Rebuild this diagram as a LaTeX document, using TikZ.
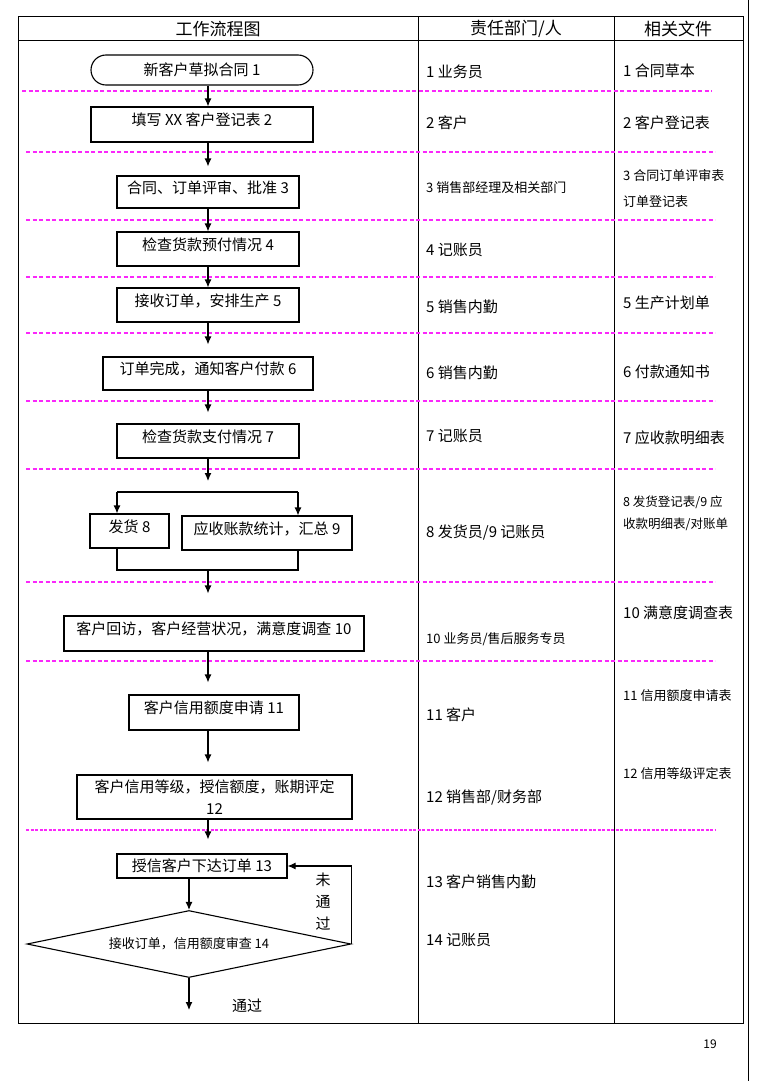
\documentclass[tikz,border=0pt]{standalone}
\usepackage{fontspec}
\setmainfont{Noto Sans CJK SC}
\usetikzlibrary{shapes.geometric,arrows.meta}
\definecolor{sepcolor}{RGB}{250,40,250}

\begin{document}
\begin{tikzpicture}[x=1pt, y=-1pt,
  plainbox/.style={draw, line width=1.1pt, inner sep=0pt, font=\fontsize{15}{22}\selectfont},
  stepbox/.style={plainbox, text height=11pt, text depth=9pt},
  colnote/.style={anchor=west, inner sep=0pt, font=\fontsize{15}{18}\selectfont},
  smallnote/.style={anchor=west, inner sep=0pt, align=left, font=\fontsize{13}{26}\selectfont},
  sep/.style={sepcolor, dash pattern=on 4pt off 2.5pt, line width=1.2pt},
  flow/.style={-{Latex[length=8pt,width=7pt]}, line width=1.1pt}]
\useasboundingbox (0,0) rectangle (772,1081);
% table
\draw[line width=1pt] (18,17) rectangle (743,1023);
\draw[line width=1pt] (18,41) -- (743,41);
\draw[line width=1pt] (418,17) -- (418,1023);
\draw[line width=1pt] (614,17) -- (614,1023);
\draw[line width=0.8pt] (748,0) -- (748,1081);
\node[font=\fontsize{17}{20}\selectfont] (h1) at (218,29) {工作流程图};
\node[font=\fontsize{17}{20}\selectfont] (h2) at (516,29) {责任部门/人};
\node[font=\fontsize{17}{20}\selectfont] (h3) at (678,29) {相关文件};
\node[font=\fontsize{12}{14}\selectfont] (page) at (710,1044) {19};
% separators
\draw[sep] (22,91) -- (712,91);
\draw[sep] (26,152) -- (715,152);
\draw[sep] (26,220) -- (715,220);
\draw[sep] (26,277) -- (715,277);
\draw[sep] (26,333) -- (715,333);
\draw[sep] (26,401) -- (715,401);
\draw[sep] (26,469) -- (715,469);
\draw[sep] (26,582) -- (715,582);
\draw[sep] (26,661) -- (715,661);
\draw[sep, dash pattern=on 3pt off 1.5pt, line width=1.8pt] (26,830) -- (715,830);
% steps
\coordinate (axis) at (208,0);
\node[plainbox, rounded corners=15pt, minimum width=222, minimum height=30] (s1) at (202,70) {新客户草拟合同 1};
\node[stepbox, minimum width=222, minimum height=35] (s2) at (202,124.5) {填写 XX 客户登记表 2};
\node[stepbox, minimum width=182, minimum height=32] (s3) at (208,192) {合同、订单评审、批准 3};
\node[stepbox, minimum width=182, minimum height=34] (s4) at (208,249) {检查货款预付情况 4};
\node[stepbox, minimum width=182, minimum height=34] (s5) at (208,305) {接收订单，安排生产 5};
\node[stepbox, minimum width=210, minimum height=33] (s6) at (208,373.5) {订单完成，通知客户付款 6};
\node[stepbox, minimum width=182, minimum height=34] (s7) at (208,441) {检查货款支付情况 7};
\node[stepbox, minimum width=79, minimum height=34] (s8) at (129.5,531) {发货 8};
\node[stepbox, minimum width=170, minimum height=34] (s9) at (267,533) {应收账款统计，汇总 9};
\node[stepbox, minimum width=300, minimum height=35] (s10) at (214,633.5) {客户回访，客户经营状况，满意度调查 10};
\node[stepbox, minimum width=170, minimum height=35] (s11) at (214,712.5) {客户信用额度申请 11};
\node[plainbox, align=center, minimum width=275, minimum height=44] (s12) at (214.5,797) {客户信用等级，授信额度，账期评定\\12};
\node[plainbox, minimum width=170, minimum height=24] (s13) at (202,866) {授信客户下达订单 13};
\node[draw, diamond, aspect=4.84, line width=1.1pt, inner sep=0pt, minimum width=324, minimum height=67, font=\fontsize{13}{15}\selectfont] (d14) at (189,944) {接收订单，信用额度审查 14};
% connectors
\draw[flow] (s1.south -| axis) -- (s2.north -| axis);
\draw[flow, shorten >=9pt] (s2.south -| axis) -- (s3.north -| axis);
\draw[flow] (s3.south -| axis) -- (s4.north -| axis);
\draw[flow] (s4.south -| axis) -- (s5.north -| axis);
\draw[flow, shorten >=12pt] (s5.south -| axis) -- (s6.north -| axis);
\draw[flow, shorten >=11pt] (s6.south -| axis) -- (s7.north -| axis);
\coordinate (fork) at (208,492);
\coordinate (forkL) at (117,492);
\coordinate (forkR) at (298,492);
\draw[flow, shorten >=11pt] (s7.south -| axis) -- (fork);
\draw[line width=1.1pt] (forkL) -- (forkR);
\draw[flow] (forkL) -- (forkL |- s8.north);
\draw[flow] (forkR) -- (forkR |- s9.north);
\coordinate (join) at (208,570);
\coordinate (joinL) at (117,570);
\coordinate (joinR) at (298,570);
\draw[line width=1.1pt] (s8.south -| joinL) -- (joinL) -- (joinR) -- (s9.south -| joinR);
\draw[flow, shorten >=22pt] (join) -- (s10.north -| join);
\draw[flow, shorten >=12pt] (s10.south -| axis) -- (s11.north -| axis);
\draw[flow, shorten >=12pt] (s11.south -| axis) -- (s12.north -| axis);
\draw[flow, shorten >=14pt] (s12.south -| axis) -- (s13.north -| axis);
\draw[flow] (s13.south -| d14.north) -- (d14.north);
\draw[flow] (d14.east) |- (s13.east);
\coordinate (pass) at (189,1010);
\draw[flow] (d14.south) -- (pass);
\node[align=center, font=\fontsize{15}{22}\selectfont] (fail) at (323,902) {未\\通\\过};
\node[font=\fontsize{15}{18}\selectfont] (ok) at (247,1006) {通过};
% responsibilities
\node[colnote] (r1) at (426,72) {1 业务员};
\node[colnote] (r2) at (426,123) {2 客户};
\node[smallnote] (r3) at (426,188) {3 销售部经理及相关部门};
\node[colnote] (r4) at (426,250) {4 记账员};
\node[colnote] (r5) at (426,307) {5 销售内勤};
\node[colnote] (r6) at (426,373) {6 销售内勤};
\node[colnote] (r7) at (426,436) {7 记账员};
\node[colnote] (r8) at (426,532) {8 发货员/9 记账员};
\node[smallnote] (r10) at (426,639) {10 业务员/售后服务专员};
\node[colnote] (r11) at (426,715) {11 客户};
\node[colnote] (r12) at (426,798) {12 销售部/财务部};
\node[colnote] (r13) at (426,882) {13 客户销售内勤};
\node[colnote] (r14) at (426,940) {14 记账员};
% documents
\node[colnote] (f1) at (623,71) {1 合同草本};
\node[colnote] (f2) at (623,123) {2 客户登记表};
\node[smallnote] (f3) at (623,189) {3 合同订单评审表\\订单登记表};
\node[colnote] (f5) at (623,303) {5 生产计划单};
\node[colnote] (f6) at (623,372) {6 付款通知书};
\node[colnote] (f7) at (623,438) {7 应收款明细表};
\node[smallnote, font=\fontsize{12.5}{22}\selectfont] (f8) at (623,513) {8 发货登记表/9 应\\收款明细表/对账单};
\node[colnote] (f10) at (623,613) {10 满意度调查表};
\node[smallnote] (f11) at (623,696) {11 信用额度申请表};
\node[smallnote] (f12) at (623,774) {12 信用等级评定表};
\end{tikzpicture}
\end{document}
